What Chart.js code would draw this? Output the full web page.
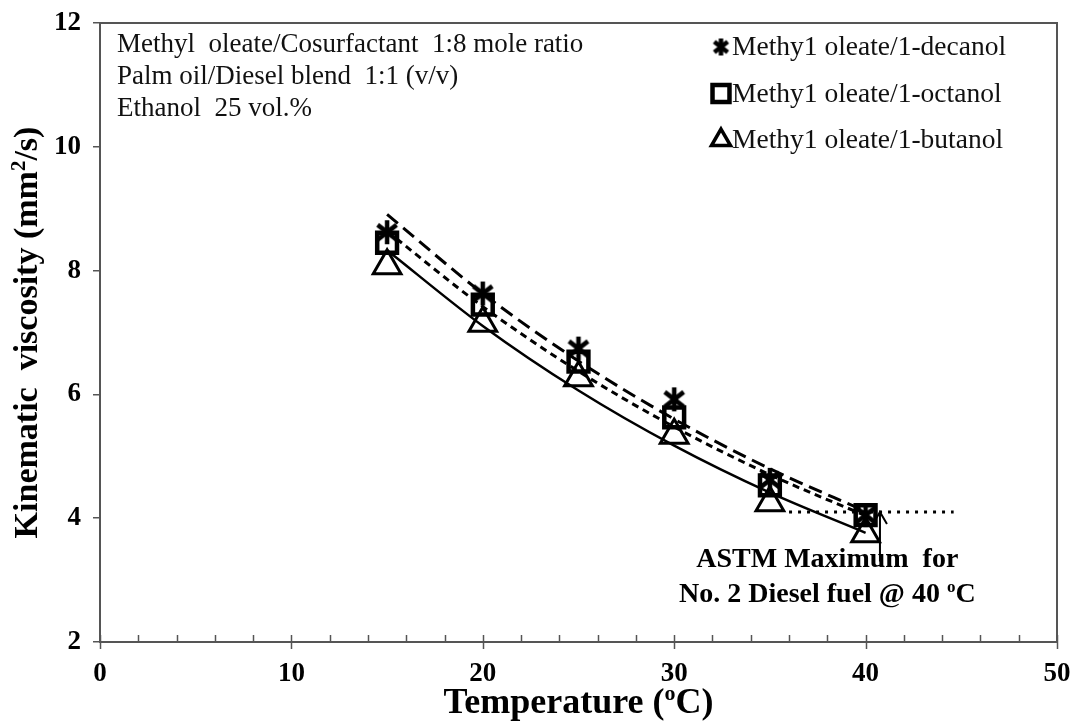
<!DOCTYPE html>
<html>
<head>
<meta charset="utf-8">
<title>Kinematic viscosity vs temperature</title>
<script src="https://cdn.jsdelivr.net/npm/chart.js@4.4.1/dist/chart.umd.min.js"></script>
<style>
  html, body { margin: 0; padding: 0; background: #fff; }
  #wrap { width: 1078px; height: 722px; }
</style>
</head>
<body>
<div id="wrap"><canvas id="viscosityChart" width="1078" height="722"></canvas></div>
<script>
// Measured kinematic viscosity (mm2/s) at each temperature (degC)
const temperatures = [15, 20, 25, 30, 35, 40];
const decanolViscosity = [8.62, 7.63, 6.74, 5.92, 4.62, 4.05];
const octanolViscosity = [8.45, 7.45, 6.53, 5.63, 4.53, 4.05];
const butanolViscosity = [8.08, 7.15, 6.27, 5.34, 4.25, 3.75];
const seriesLabels = ['Methy1 oleate/1-decanol', 'Methy1 oleate/1-octanol', 'Methy1 oleate/1-butanol'];

// ASTM limit for No. 2 diesel at 40 degC
const astmLimit = 4.1;
const astmRange = [36, 44.6];

const xTicks = [0, 10, 20, 30, 40, 50];
const yTicks = [2, 4, 6, 8, 10, 12];
const noteLines = [
  'Methyl  oleate/Cosurfactant  1:8 mole ratio',
  'Palm oil/Diesel blend  1:1 (v/v)',
  'Ethanol  25 vol.%'
];

const SERIF = "'Liberation Serif', 'Times New Roman', serif";
const AXIS_COLOR = '#555';

/**
 * Exponential trendline (least squares on ln y), evaluated at the data x values
 */
function expTrend(xs, ys) {
  const n = xs.length;
  const mx = xs.reduce((a, b) => a + b, 0) / n;
  const my = ys.reduce((a, y) => a + Math.log(y), 0) / n;
  let sxx = 0, sxy = 0;
  xs.forEach((x, i) => {
    sxx += (x - mx) * (x - mx);
    sxy += (x - mx) * (Math.log(ys[i]) - my);
  });
  const b = sxy / sxx;
  return xs.map(x => ({ x: x, y: Math.exp(my + b * (x - mx)) }));
}

/**
 * Six-armed asterisk marker as a canvas image
 */
function makeAsterisk(size, lw) {
  const c = document.createElement('canvas');
  c.width = size;
  c.height = size;
  const ctx = c.getContext('2d');
  const r = size / 2 - 1;
  ctx.strokeStyle = '#000';
  ctx.lineWidth = lw;
  ctx.translate(size / 2, size / 2);
  [90, 38, -38].forEach(deg => {
    const a = deg * Math.PI / 180;
    ctx.beginPath();
    ctx.moveTo(-r * Math.cos(a), -r * Math.sin(a));
    ctx.lineTo(r * Math.cos(a), r * Math.sin(a));
    ctx.stroke();
  });
  return c;
}

const asteriskBig = makeAsterisk(26, 4.5);
const asteriskSmall = makeAsterisk(19, 4.5);

function points(values) {
  return temperatures.map((t, i) => ({ x: t, y: values[i] }));
}

function markerSet(label, values, style, radius, borderWidth) {
  return {
    label: label,
    data: points(values),
    showLine: false,
    pointStyle: style,
    pointRadius: radius,
    pointHoverRadius: radius,
    pointBorderWidth: borderWidth,
    pointBorderColor: '#000',
    pointBackgroundColor: 'rgba(0,0,0,0)'
  };
}

function trendSet(values, dash, width) {
  return {
    label: 'trend',
    data: expTrend(temperatures, values),
    showLine: true,
    borderColor: '#000',
    borderWidth: width,
    borderDash: dash,
    cubicInterpolationMode: 'monotone',
    pointRadius: 0,
    fill: false
  };
}

/**
 * Draw text made of normal and superscript parts
 */
function drawRich(ctx, parts, x, y, size, bold, align) {
  const weight = bold ? 'bold ' : '';
  const widths = parts.map(p => {
    ctx.font = weight + (p.sup ? Math.round(size * 0.62) : size) + 'px ' + SERIF;
    return ctx.measureText(p.t).width;
  });
  const total = widths.reduce((a, b) => a + b, 0);
  let cx = align === 'center' ? x - total / 2 : x;
  ctx.textAlign = 'left';
  ctx.textBaseline = 'alphabetic';
  parts.forEach((p, i) => {
    ctx.font = weight + (p.sup ? Math.round(size * 0.62) : size) + 'px ' + SERIF;
    ctx.fillText(p.t, cx, p.sup ? y - size * 0.36 : y);
    cx += widths[i];
  });
}

// Frame, minor ticks, notes, ASTM arrow, axis titles and legend
const decorPlugin = {
  id: 'decor',
  afterDraw(chart) {
    const { ctx, chartArea: area, scales } = chart;
    const xs = scales.x, ys = scales.y;
    ctx.save();

    // top and right frame
    ctx.strokeStyle = AXIS_COLOR;
    ctx.lineWidth = 2;
    ctx.beginPath();
    ctx.moveTo(area.left, area.top);
    ctx.lineTo(area.right, area.top);
    ctx.lineTo(area.right, area.bottom);
    ctx.stroke();

    // x-axis tick marks: minor inside, major crossing
    ctx.lineWidth = 1.5;
    for (let v = 0; v <= 50; v += 2) {
      const px = Math.round(xs.getPixelForValue(v)) + 0.5;
      const major = v % 10 === 0;
      ctx.beginPath();
      ctx.moveTo(px, area.bottom - 7);
      ctx.lineTo(px, area.bottom + (major ? 7 : 0));
      ctx.stroke();
    }

    ctx.fillStyle = '#111';

    // conditions note, top left
    ctx.font = '27px ' + SERIF;
    ctx.textAlign = 'left';
    ctx.textBaseline = 'middle';
    noteLines.forEach((line, i) => {
      ctx.fillText(line, area.left + 17, area.top + 22 + i * 32);
    });

    // ASTM arrow
    const ax = xs.getPixelForValue(40.75);
    const aTop = ys.getPixelForValue(astmLimit);
    const aBot = ys.getPixelForValue(3.3);
    ctx.strokeStyle = '#000';
    ctx.lineWidth = 2;
    ctx.beginPath();
    ctx.moveTo(ax, aBot);
    ctx.lineTo(ax, aTop);
    ctx.moveTo(ax - 7, aTop + 12);
    ctx.lineTo(ax, aTop);
    ctx.lineTo(ax + 7, aTop + 12);
    ctx.stroke();

    // ASTM label
    ctx.fillStyle = '#000';
    const tx = xs.getPixelForValue(38);
    drawRich(ctx, [{ t: 'ASTM Maximum  for' }], tx, ys.getPixelForValue(3.37) + 10, 28, true, 'center');
    drawRich(ctx, [{ t: 'No. 2 Diesel fuel @ 40 ' }, { t: 'o', sup: true }, { t: 'C' }],
      tx, ys.getPixelForValue(2.8) + 10, 28, true, 'center');

    // axis titles
    drawRich(ctx, [{ t: 'Temperature (' }, { t: 'o', sup: true }, { t: 'C)' }],
      (area.left + area.right) / 2, 713, 36, true, 'center');
    ctx.save();
    ctx.translate(37, (area.top + area.bottom) / 2);
    ctx.rotate(-Math.PI / 2);
    drawRich(ctx, [{ t: 'Kinematic  viscosity (mm' }, { t: '2', sup: true }, { t: '/s)' }],
      0, 0, 34, true, 'center');
    ctx.restore();

    // legend inside the plot, top right
    const markerDefs = [
      { style: asteriskSmall, radius: 9, width: 4 },
      { style: 'rect', radius: 12, width: 4.5 },
      { style: 'triangle', radius: 11, width: 3.5 }
    ];
    const lx = area.right - 336;
    ctx.font = '27.5px ' + SERIF;
    ctx.textAlign = 'left';
    ctx.textBaseline = 'middle';
    seriesLabels.forEach((label, i) => {
      const ly = area.top + 24 + i * 46.5;
      const m = markerDefs[i];
      ctx.strokeStyle = '#000';
      ctx.fillStyle = 'rgba(0,0,0,0)';
      ctx.lineWidth = m.width;
      Chart.helpers.drawPoint(ctx, { pointStyle: m.style, radius: m.radius, borderWidth: m.width, rotation: 0 }, lx, ly);
      ctx.fillStyle = '#111';
      ctx.fillText(label, lx + 11, ly + 1);
    });

    ctx.restore();
  }
};

const tickFont = { family: SERIF, size: 27, weight: 'bold' };

new Chart(document.getElementById('viscosityChart'), {
  type: 'scatter',
  data: {
    datasets: [
      markerSet(seriesLabels[0], decanolViscosity, asteriskBig, 13, 4),
      markerSet(seriesLabels[1], octanolViscosity, 'rect', 14, 4.5),
      markerSet(seriesLabels[2], butanolViscosity, 'triangle', 16, 3),
      trendSet(decanolViscosity, [14, 7], 3),
      trendSet(octanolViscosity, [7, 5], 3),
      trendSet(butanolViscosity, [], 2.5),
      {
        label: 'ASTM',
        data: astmRange.map(x => ({ x: x, y: astmLimit })),
        showLine: true,
        borderColor: '#000',
        borderWidth: 3,
        borderDash: [3, 6],
        pointRadius: 0
      }
    ]
  },
  options: {
    responsive: false,
    animation: false,
    layout: { padding: { top: 23, right: 21, left: 0, bottom: 0 } },
    plugins: {
      legend: { display: false },
      tooltip: { enabled: false }
    },
    scales: {
      x: {
        type: 'linear',
        min: 0,
        max: 50,
        afterBuildTicks: s => { s.ticks = xTicks.map(v => ({ value: v })); },
        afterFit: s => {
          s.height = 80;
          s.paddingLeft = 0;
          s.paddingRight = 0;
        },
        grid: { drawOnChartArea: false, drawTicks: false },
        border: { color: AXIS_COLOR, width: 2 },
        ticks: { font: tickFont, color: '#000', padding: 16 }
      },
      y: {
        type: 'linear',
        min: 2,
        max: 12,
        afterBuildTicks: s => { s.ticks = yTicks.map(v => ({ value: v })); },
        afterFit: s => {
          s.width = 100;
          s.paddingTop = 0;
          s.paddingBottom = 0;
        },
        grid: { drawOnChartArea: false, drawTicks: true, tickLength: 7, color: AXIS_COLOR, lineWidth: 1.5 },
        border: { color: AXIS_COLOR, width: 2 },
        ticks: { font: tickFont, color: '#000', padding: 12 }
      }
    }
  },
  plugins: [decorPlugin]
});
</script>
</body>
</html>
